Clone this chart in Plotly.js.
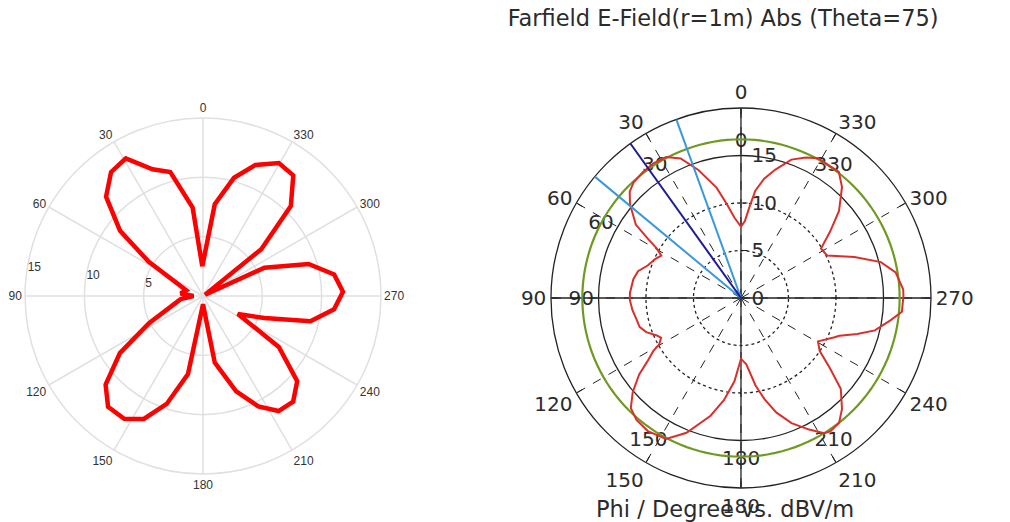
<!DOCTYPE html>
<html>
<head>
<meta charset="utf-8">
<script src="https://cdn.plot.ly/plotly-3.0.1.min.js"></script>
<style>
html,body{margin:0;padding:0;background:#fff;}
#chart{width:1010px;height:522px;}
</style>
</head>
<body>
<div id="chart"></div>
<script>
// ---------- shared ----------
const angleTicks = [0, 30, 60, 90, 120, 150, 180, 210, 240, 270, 300, 330];
const angleTickText = ['0', '30', '60', '90', '120', '150', '180', '210', '240', '270', '300', '330'];

// ---------- left chart (five-lobe pattern) ----------
const leftTheta = [1.4, 6.7, 14.8, 21.7, 29.3, 36.6, 44.3, 51.8, 57.8, 71.2, 83.6, 90, 98,
  116.8, 124.5, 132.3, 139.4, 147.3, 154.3, 161.4, 169.1, 180,
  190, 199.2, 206.6, 213.3, 220.5, 227.9, 236.1, 242.7,
  250.3, 256.8, 264.2, 271.7, 279.3, 286.9, 294.7, 300,
  308.8, 315.7, 323.2, 330.3, 338.2, 345.3, 352.7, 361.4];
const leftR = [2.5, 7.5, 10.8, 11.5, 13.3, 13.0, 11.7, 8.9, 5.4, 1.5, 1.9, 0.8, 1.9,
  5.1, 8.5, 11.1, 12.3, 12.3, 11.5, 9.6, 6.7, 0.7,
  5.7, 8.5, 10.4, 11.6, 11.7, 10.7, 7.7, 3.3,
  5.5, 9.3, 11.1, 11.8, 11.2, 9.3, 5.7, 0.2,
  6.3, 10.6, 12.7, 12.9, 11.9, 10.3, 7.8, 2.5];
const leftRadialTicks = [5, 10, 15];

// ---------- right chart (Farfield E-Field, Theta=75) ----------
const phiDeg = [0, 4.7, 8.6, 12.5, 18.4, 23.4, 28, 33, 38, 43, 46.3, 49.8, 55.1, 57.4, 59.5, 62,
  65.4, 70.8, 75.4, 80.1, 87.4, 91, 96.3, 102.1, 105.9, 109.8, 114, 116.5, 119.6, 121.2,
  124.1, 126.9, 131, 135, 139.4, 145, 152, 158, 165.5, 170.5, 175.5, 180,
  184.6, 189.4, 193, 197.1, 202, 207.4, 211.6, 213.8, 218.2, 222.3, 227.7, 231.8, 236,
  240.6, 246.9, 249, 252.8, 256.4, 261.5, 265.1, 270.6, 273, 279.4, 284.4, 289.9, 296.3,
  301.7, 306.7, 311.6, 317.7, 322.2, 331.1, 335.2, 340, 345, 349, 352.4, 354.7, 357.1, 360];
const eFieldDbV = [7.5, 8.5, 10.0, 11.9, 14.2, 16.0, 16.8, 16.9, 16.8, 16.6, 16.2, 15.3, 13.5, 11.7, 10.3, 9.5,
  9.9, 10.4, 11.2, 11.5, 11.7, 11.7, 11.5, 11.2, 11.1, 10.6, 9.7, 9.4, 9.9, 10.8,
  11.9, 13.4, 15.1, 16.4, 16.9, 17.1, 16.8, 15.3, 12.8, 10.9, 8.8, 6.4,
  7.0, 9.3, 10.9, 12.6, 14.2, 15.6, 16.7, 16.9, 16.7, 15.8, 14.2, 11.9, 10.0,
  9.3, 10.6, 11.1, 12.8, 14.5, 15.9, 17.0, 17.1, 17.1, 16.5, 15.2, 12.7, 10.1,
  9.9, 11.7, 13.8, 15.8, 16.8, 16.8, 16.3, 15.5, 14.0, 12.8, 11.4, 9.6, 8.1, 7.5];
const maxLevel = 16.7;            // main-lobe magnitude circle (green)
const mainLobeDir = 35.6;         // main lobe direction (dark blue)
const beamEdges = [19.9, 50.3];   // 3 dB beam-width edges (light blue)
const rightRange = [0, 20];
const rightRadialTicks = [0, 5, 10, 15];
const innerTickText = ['0', '30', '60', '90', '', '150', '180', '210', '', '', '', '330'];
const crossTicks = [0, 90, 180, 270];

// ---------- traces ----------
const ringTheta = Array.from({length: 145}, (_, i) => i * 2.5);
const data = [
  {type: 'scatterpolar', subplot: 'polar', r: leftR, theta: leftTheta, mode: 'lines',
   line: {color: '#ff0000', width: 4.5}, hoverinfo: 'skip'},
  {type: 'scatterpolar', subplot: 'polar2', r: [rightRange[0]], theta: [0], mode: 'markers',
   marker: {size: 1, opacity: 0}, hoverinfo: 'skip'},
  {type: 'scatterpolar', subplot: 'polar3', r: [rightRange[0]], theta: [0], mode: 'markers',
   marker: {size: 1, opacity: 0}, hoverinfo: 'skip'},
  {type: 'scatterpolar', subplot: 'polar4', r: ringTheta.map(() => maxLevel), theta: ringTheta, mode: 'lines',
   line: {color: '#6f9a22', width: 2.2}, hoverinfo: 'skip'},
  {type: 'scatterpolar', subplot: 'polar4', r: eFieldDbV, theta: phiDeg, mode: 'lines',
   line: {color: '#d9302c', width: 2}, hoverinfo: 'skip'},
  {type: 'scatterpolar', subplot: 'polar4', r: rightRange, theta: [beamEdges[0], beamEdges[0]], mode: 'lines',
   line: {color: '#3a98dc', width: 2}, hoverinfo: 'skip'},
  {type: 'scatterpolar', subplot: 'polar4', r: rightRange, theta: [beamEdges[1], beamEdges[1]], mode: 'lines',
   line: {color: '#3a98dc', width: 2}, hoverinfo: 'skip'},
  {type: 'scatterpolar', subplot: 'polar4', r: rightRange, theta: [mainLobeDir, mainLobeDir], mode: 'lines',
   line: {color: '#1c1c96', width: 2}, hoverinfo: 'skip'}
];

// ---------- layout ----------
const blk = '#222222';
const txt = '#2b2b2b';
const rf = {family: '"DejaVu Sans", Verdana, sans-serif', size: 20, color: txt};
const lf = {family: 'Arial, "Liberation Sans", sans-serif', size: 12, color: '#333'};
const outerDom = {x: [0.5455, 0.9218], y: [0.0651, 0.7931]};
const innerDom = {x: [0.5926, 0.8748], y: [0.1561, 0.7021]};
const clear = 'rgba(0,0,0,0)';

const layout = {
  width: 1010, height: 522,
  margin: {l: 0, r: 0, t: 0, b: 0},
  paper_bgcolor: '#ffffff',
  showlegend: false,
  title: {text: 'Farfield E-Field(r=1m) Abs (Theta=75)', x: 0.716, xanchor: 'center',
          y: 0.966, yanchor: 'middle', font: {family: rf.family, size: 22.5, color: txt}},
  polar: {
    domain: {x: [0.0248, 0.3772], y: [0.092, 0.7739]},
    bgcolor: '#ffffff',
    angularaxis: {direction: 'counterclockwise', rotation: 90, tickmode: 'array',
      tickvals: angleTicks, ticktext: angleTickText, ticks: '', showline: true,
      linecolor: '#e0e0e0', linewidth: 1.5, gridcolor: '#e0e0e0', gridwidth: 1.5, tickfont: lf},
    radialaxis: {range: [0, 15], tickmode: 'array', tickvals: leftRadialTicks, angle: 172,
      tickangle: 172, side: 'clockwise',
      showline: false, ticks: '', gridcolor: '#e0e0e0', gridwidth: 1.5, tickfont: lf}
  },
  polar2: {
    domain: outerDom, bgcolor: clear,
    angularaxis: {direction: 'counterclockwise', rotation: 90, tickmode: 'array',
      tickvals: angleTicks, ticktext: angleTickText, ticks: 'inside', ticklen: 6, tickcolor: blk,
      showline: true, linecolor: blk, linewidth: 1.3, showgrid: true, griddash: 'dash',
      gridcolor: blk, gridwidth: 1, tickfont: rf},
    radialaxis: {range: rightRange, tickmode: 'array', tickvals: [5, 10], showticklabels: false,
      ticks: '', showline: false, griddash: 'dot', gridcolor: blk, gridwidth: 1.3}
  },
  polar3: {
    domain: innerDom, bgcolor: clear,
    angularaxis: {direction: 'counterclockwise', rotation: 90, tickmode: 'array',
      tickvals: angleTicks, ticktext: innerTickText, ticks: '', showgrid: false,
      showline: true, linecolor: blk, linewidth: 1.3, tickfont: rf},
    radialaxis: {range: [0, 15], visible: false}
  },
  polar4: {
    domain: outerDom, bgcolor: clear,
    angularaxis: {direction: 'counterclockwise', rotation: 90, tickmode: 'array',
      tickvals: crossTicks, showticklabels: false, ticks: '', showline: false,
      showgrid: true, gridcolor: blk, gridwidth: 1.3},
    radialaxis: {range: rightRange, tickmode: 'array', tickvals: rightRadialTicks, angle: 90,
      tickangle: 90, ticks: 'outside', ticklen: 6, tickcolor: blk, showgrid: false, showline: false, tickfont: rf}
  },
  annotations: [
    {text: 'Phi / Degree vs. dBV/m', xref: 'paper', yref: 'paper', x: 0.718, y: 0.025,
     xanchor: 'center', yanchor: 'middle', showarrow: false,
     font: {family: rf.family, size: 22.5, color: txt}}
  ]
};

Plotly.newPlot('chart', data, layout, {displayModeBar: false, staticPlot: true});
</script>
</body>
</html>
